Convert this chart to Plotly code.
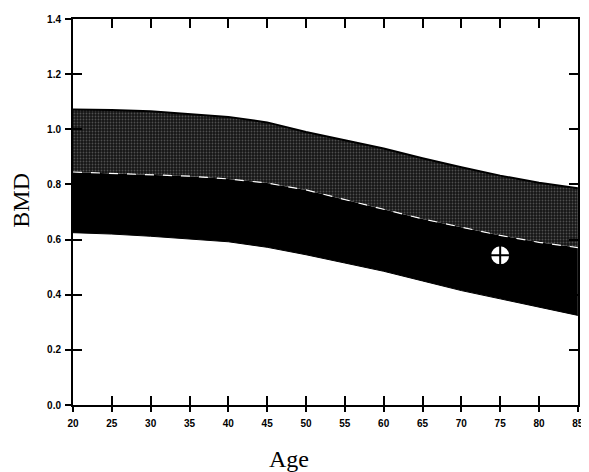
import plotly.graph_objects as go

ages = [20, 25, 30, 35, 40, 45, 50, 55, 60, 65, 70, 75, 80, 85]
upper = [1.072, 1.07, 1.065, 1.055, 1.045, 1.025, 0.99, 0.96, 0.93, 0.895, 0.862, 0.832, 0.806, 0.786]
middle = [0.845, 0.84, 0.835, 0.83, 0.82, 0.805, 0.78, 0.745, 0.71, 0.675, 0.645, 0.615, 0.59, 0.571]
lower = [0.625, 0.62, 0.612, 0.603, 0.592, 0.572, 0.545, 0.515, 0.485, 0.45, 0.415, 0.385, 0.355, 0.325]

patient_age = [75]
patient_bmd = [0.543]

x_ticks = [20, 25, 30, 35, 40, 45, 50, 55, 60, 65, 70, 75, 80, 85]
y_ticks = [0.0, 0.2, 0.4, 0.6, 0.8, 1.0, 1.2, 1.4]

fig = go.Figure()
fig.add_trace(go.Scatter(x=ages, y=lower, mode="lines", line=dict(color="black", width=1),
                         showlegend=False, hoverinfo="skip"))
fig.add_trace(go.Scatter(x=ages, y=middle, mode="lines", line=dict(color="black", width=0),
                         fill="tonexty", fillcolor="black", showlegend=False, hoverinfo="skip"))
fig.add_trace(go.Scatter(x=ages, y=upper, mode="lines", line=dict(color="black", width=2),
                         fill="tonexty", fillcolor="#2a2a2a",
                         fillpattern=dict(shape=".", bgcolor="#151515", fgcolor="#8a8a8a",
                                          size=3, solidity=0.3),
                         showlegend=False, hoverinfo="skip"))
fig.add_trace(go.Scatter(x=ages, y=middle, mode="lines", line=dict(color="white", width=1.2, dash="dash"),
                         showlegend=False, hoverinfo="skip"))
fig.add_trace(go.Scatter(x=patient_age, y=patient_bmd, mode="markers",
                         marker=dict(symbol="circle-cross", size=20, color="white",
                                     line=dict(color="black", width=2)),
                         showlegend=False, hoverinfo="skip"))

xr = [20, 85.02]
yr = [0, 1.4]
tickfont = dict(family="Liberation Sans", size=10, color="black", weight="bold")

# page body has an 8px margin, so the figure is drawn from (8, 8)
W, H = 581, 464
L, R, T, B = 65, 6, 5, 67
PW = W - L - R
PH = H - T - B

fig.update_layout(
    width=W, height=H,
    margin=dict(l=L, r=R, t=T, b=B),
    paper_bgcolor="white", plot_bgcolor="white",
    xaxis=dict(range=xr, tickvals=x_ticks, ticktext=[str(v) for v in x_ticks],
               ticks="inside", ticklen=9, tickwidth=1.5, tickcolor="black",
               mirror="ticks", showline=True, linecolor="black", linewidth=1.5,
               showgrid=False, zeroline=False, showticklabels=True, tickfont=tickfont,
               ticklabelstandoff=8, ticklabeloverflow="allow"),
    yaxis=dict(range=yr, tickvals=y_ticks, tickformat=".1f",
               ticks="inside", ticklen=9, tickwidth=1.5, tickcolor="black",
               mirror="ticks", showline=True, linecolor="black", linewidth=2,
               showgrid=False, zeroline=False, showticklabels=True, tickfont=tickfont,
               ticklabelstandoff=8),
    xaxis2=dict(range=xr, overlaying="x", side="bottom", anchor="y", tickvals=x_ticks,
                ticks="outside", ticklen=6, tickwidth=1.5, tickcolor="black", showticklabels=False,
                showline=False, showgrid=False, zeroline=False),
    yaxis2=dict(range=yr, overlaying="y", side="left", anchor="x", tickvals=y_ticks,
                ticks="outside", ticklen=7, tickwidth=1.5, tickcolor="black", showticklabels=False,
                showline=False, showgrid=False, zeroline=False),
    annotations=[
        dict(text="Age", xref="paper", yref="paper", x=(283 - L) / PW, y=-(452 - (H - B)) / PH,
             xanchor="center", yanchor="middle", showarrow=False, borderpad=0,
             font=dict(family="Liberation Serif", size=24, color="black")),
        dict(text="BMD", xref="paper", yref="paper", x=-(L - 13) / PW, y=((H - B) - 189) / PH,
             xanchor="center", yanchor="middle", showarrow=False, textangle=-90, borderpad=0,
             font=dict(family="Liberation Serif", size=24, color="black")),
    ],
)
fig.add_trace(go.Scatter(x=[None], y=[None], xaxis="x2", yaxis="y2", showlegend=False))

fig.write_html("out.html")
